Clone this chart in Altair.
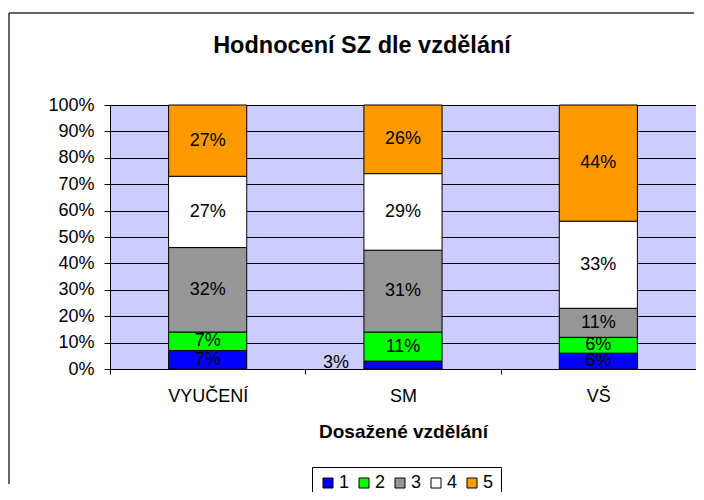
import altair as alt
import pandas as pd

categories = ["VYUČENÍ", "SM", "VŠ"]
levels = ["1", "2", "3", "4", "5"]
vals_vyuceni = [7, 7, 32, 27, 27]
vals_sm = [3, 11, 31, 29, 26]
vals_vs = [6, 6, 11, 33, 44]
colors = ["#0000FF", "#00FF00", "#969696", "#FFFFFF", "#FF9900"]
y_tick_values = [0, 0.1, 0.2, 0.3, 0.4, 0.5, 0.6, 0.7, 0.8, 0.9, 1.0]
chart_title = "Hodnocení SZ dle vzdělání"
x_title = "Dosažené vzdělání"

rows = []
for cat, vals in zip(categories, [vals_vyuceni, vals_sm, vals_vs]):
    for i, (lvl, v) in enumerate(zip(levels, vals)):
        rows.append({"cat": cat, "level": lvl, "ord": i, "value": v})
df = pd.DataFrame(rows)

FONT = "Liberation Sans"

base = alt.Chart(df).transform_stack(
    stack="value",
    groupby=["cat"],
    as_=["v0", "v1"],
    sort=[alt.SortField(field="ord", order="ascending")],
).transform_calculate(
    y0="datum.v0/100",
    y1="datum.v1/100",
    mid="(datum.v0+datum.v1)/200",
    lab="datum.value + '%'",
)

x_axis = alt.Axis(
    tickBand="extent",
    tickColor="black",
    tickSize=5,
    domainColor="black",
    labelFontSize=18,
    labelColor="black",
    labelPadding=13,
    labelAngle=0,
    grid=False,
    title=x_title,
    titleFontSize=19,
    titleFontWeight="bold",
    titleColor="black",
    titleY=68,
    titleBaseline="alphabetic",
)
x_scale = alt.Scale(paddingInner=0, paddingOuter=0)

y_axis = alt.Axis(
    values=y_tick_values,
    format=".0%",
    grid=True,
    gridColor="black",
    gridWidth=1,
    tickColor="black",
    tickSize=6,
    domainColor="black",
    labelFontSize=18,
    labelColor="black",
    labelPadding=10,
    labelOverlap=False,
    tickCount=11,
    title=None,
)
y_scale = alt.Scale(domain=[0, 1], nice=False)

bars = base.mark_bar(stroke="black", strokeWidth=1, width=alt.RelativeBandSize(0.4)).encode(
    x=alt.X("cat:N", sort=categories, scale=x_scale, axis=x_axis),
    y=alt.Y("y0:Q", scale=y_scale, axis=y_axis),
    y2="y1:Q",
    color=alt.Color(
        "level:N",
        scale=alt.Scale(domain=levels, range=colors),
        legend=alt.Legend(
            title=None,
            orient="none",
            legendX=202,
            legendY=362,
            direction="horizontal",
            strokeColor="black",
            padding=7,
            symbolType="square",
            symbolSize=100,
            symbolStrokeColor="black",
            symbolStrokeWidth=1,
            labelFontSize=18,
            labelColor="black",
            labelOffset=2,
            columnPadding=5,
        ),
    ),
    order=alt.Order("ord:Q", sort="ascending"),
)

labels = base.transform_filter("datum.value >= 5").mark_text(
    fontSize=18, color="black", baseline="middle", align="center"
).encode(
    x=alt.X("cat:N", sort=categories, scale=x_scale, axis=x_axis),
    y=alt.Y("mid:Q", scale=y_scale, axis=y_axis),
    text="lab:N",
)

small_labels = base.transform_filter("datum.value < 5").mark_text(
    fontSize=18, color="black", baseline="middle", align="center", dx=-67, dy=-2
).encode(
    x=alt.X("cat:N", sort=categories, scale=x_scale, axis=x_axis),
    y=alt.Y("mid:Q", scale=y_scale, axis=y_axis),
    text="lab:N",
)

title_mark = alt.Chart(alt.Data(values=[{"t": chart_title}])).mark_text(
    fontSize=23.5, fontWeight="bold", color="black", align="center", baseline="alphabetic"
).encode(x=alt.value(252), y=alt.value(-52), text="t:N")

frame_top = alt.Chart(alt.Data(values=[{"k": 1}])).mark_rule(color="#333333", strokeWidth=1.5).encode(
    x=alt.value(-101), x2=alt.value(584), y=alt.value(-92), y2=alt.value(-92)
)
frame_left = alt.Chart(alt.Data(values=[{"k": 1}])).mark_rule(color="#333333", strokeWidth=1.5).encode(
    x=alt.value(-101), x2=alt.value(-101), y=alt.value(-92), y2=alt.value(379)
)

chart = alt.layer(bars, labels, small_labels, title_mark, frame_top, frame_left).properties(
    width=586,
    height=264,
    autosize="none",
    padding={"left": 102, "top": 97, "right": 0, "bottom": 123},
).configure(font=FONT, background="white").configure_view(
    fill="#CCCCFF", stroke="#808080"
)

chart.save("out.html", embed_options={"renderer": "svg", "actions": False})
